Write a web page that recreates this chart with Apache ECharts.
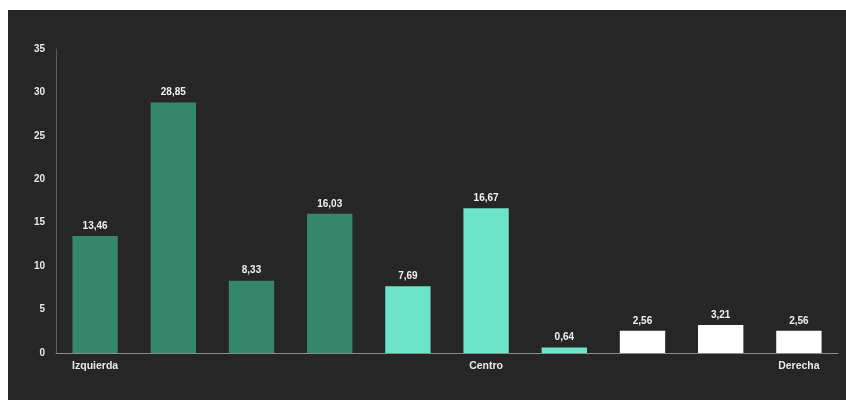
<!DOCTYPE html>
<html><head><meta charset="utf-8">
<script src="https://cdn.jsdelivr.net/npm/echarts@6/dist/echarts.min.js"></script>
<style>
html,body{margin:0;padding:0;background:#fff;width:846px;height:400px;overflow:hidden}
#c{position:absolute;left:8px;top:10px;width:838px;height:390px;background:#262626}
</style></head><body>
<div id="c"></div>
<script>
const categories = ['Izquierda','','','','','Centro','','','','Derecha'];
const values = [13.46, 28.85, 8.33, 16.03, 7.69, 16.67, 0.64, 2.56, 3.21, 2.56];
const colors = ['#35876b','#35876b','#35876b','#35876b','#6de3ca','#6de3ca','#6de3ca','#ffffff','#ffffff','#ffffff'];
const yTicks = [0,5,10,15,20,25,30,35];

const chart = echarts.init(document.getElementById('c'), null, {renderer:'canvas'});
chart.setOption({
  backgroundColor:'#262626',
  animation:false,
  grid:{left:48,right:8,top:39,bottom:47,containLabel:false},
  xAxis:{type:'category',data:categories,
    axisLine:{lineStyle:{color:'#8a8a8a',width:1}},
    axisTick:{show:false},
    axisLabel:{color:'#e8e8e8',fontSize:10.5,fontWeight:'bold',fontFamily:'Liberation Sans, Arial',margin:8,interval:0}},
  yAxis:{type:'value',min:0,max:35,interval:5,
    axisLine:{show:true,lineStyle:{color:'#5a5a5a',width:1}},
    axisTick:{show:false},
    splitLine:{show:false},
    axisLabel:{color:'#e8e8e8',fontSize:10,fontWeight:'bold',fontFamily:'Liberation Sans, Arial',margin:11,
      formatter:v=>yTicks.includes(v)?String(v):''}},
  series:[{type:'bar',barWidth:'58%',
    data:values.map((v,i)=>({value:v,itemStyle:{color:colors[i]}})),
    label:{show:true,position:'top',distance:5,color:'#f0f0f0',fontSize:10,fontWeight:'bold',fontFamily:'Liberation Sans, Arial',
      formatter:p=>p.value.toFixed(2).replace('.',',')}}]
});
</script></body></html>
